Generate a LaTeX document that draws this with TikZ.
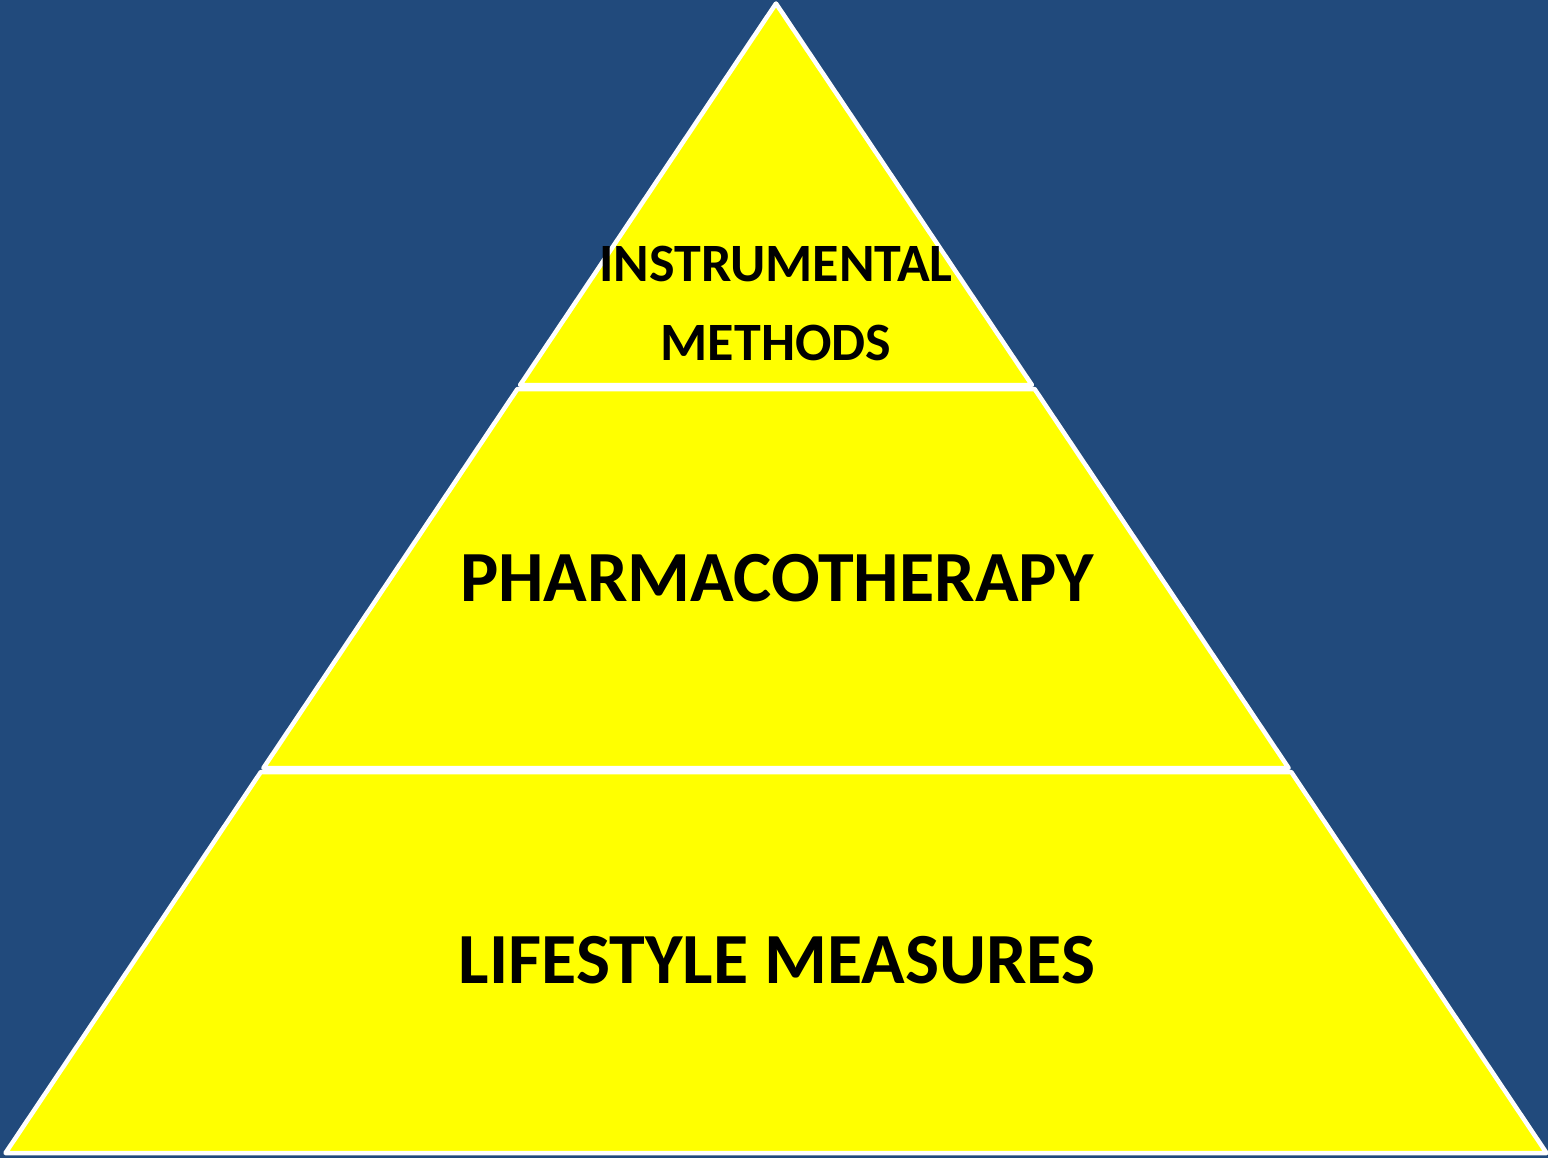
\documentclass[tikz,border=0pt]{standalone}
\usepackage{fontspec}
\setmainfont{Carlito}
\definecolor{slidebg}{HTML}{214A7C}
\definecolor{tieryellow}{HTML}{FFFF00}
\begin{document}
\begin{tikzpicture}[x=1pt,y=-1pt,
  tier/.style={fill=tieryellow,draw=white,line width=4.5pt,line join=round},
  label/.style={anchor=base,text=black,font=\bfseries,inner sep=0pt}]
  % page
  \fill[slidebg] (0,0) rectangle (1548,1158);
  \useasboundingbox (0,0) rectangle (1548,1158);
  % apex and tier corners
  \coordinate (apex) at (776,3.5);
  \coordinate (t1l) at (520.1,385);  \coordinate (t1r) at (1031.9,385);
  \coordinate (t2tl) at (517.4,389); \coordinate (t2tr) at (1034.6,389);
  \coordinate (t2bl) at (263.4,768); \coordinate (t2br) at (1288.6,768);
  \coordinate (t3tl) at (260.8,772); \coordinate (t3tr) at (1291.2,772);
  \coordinate (t3bl) at (5.5,1153);  \coordinate (t3br) at (1546.5,1153);
  % tiers
  \draw[tier] (apex) -- (t1r) -- (t1l) -- cycle;
  \draw[tier] (t2tl) -- (t2tr) -- (t2br) -- (t2bl) -- cycle;
  \draw[tier] (t3tl) -- (t3tr) -- (t3br) -- (t3bl) -- cycle;
  % labels
  \node[label,font=\bfseries\fontsize{54}{60}\selectfont] (instr) at (776,282) {INSTRUMENTAL};
  \node[label,font=\bfseries\fontsize{54}{60}\selectfont] (meth) at (776,361) {METHODS};
  \node[label,font=\bfseries\fontsize{72}{80}\selectfont] (pharma) at (777,601) {PHARMACOTHERAPY};
  \node[label,font=\bfseries\fontsize{72}{80}\selectfont] (life) at (777,983) {LIFESTYLE MEASURES};
\end{tikzpicture}
\end{document}
